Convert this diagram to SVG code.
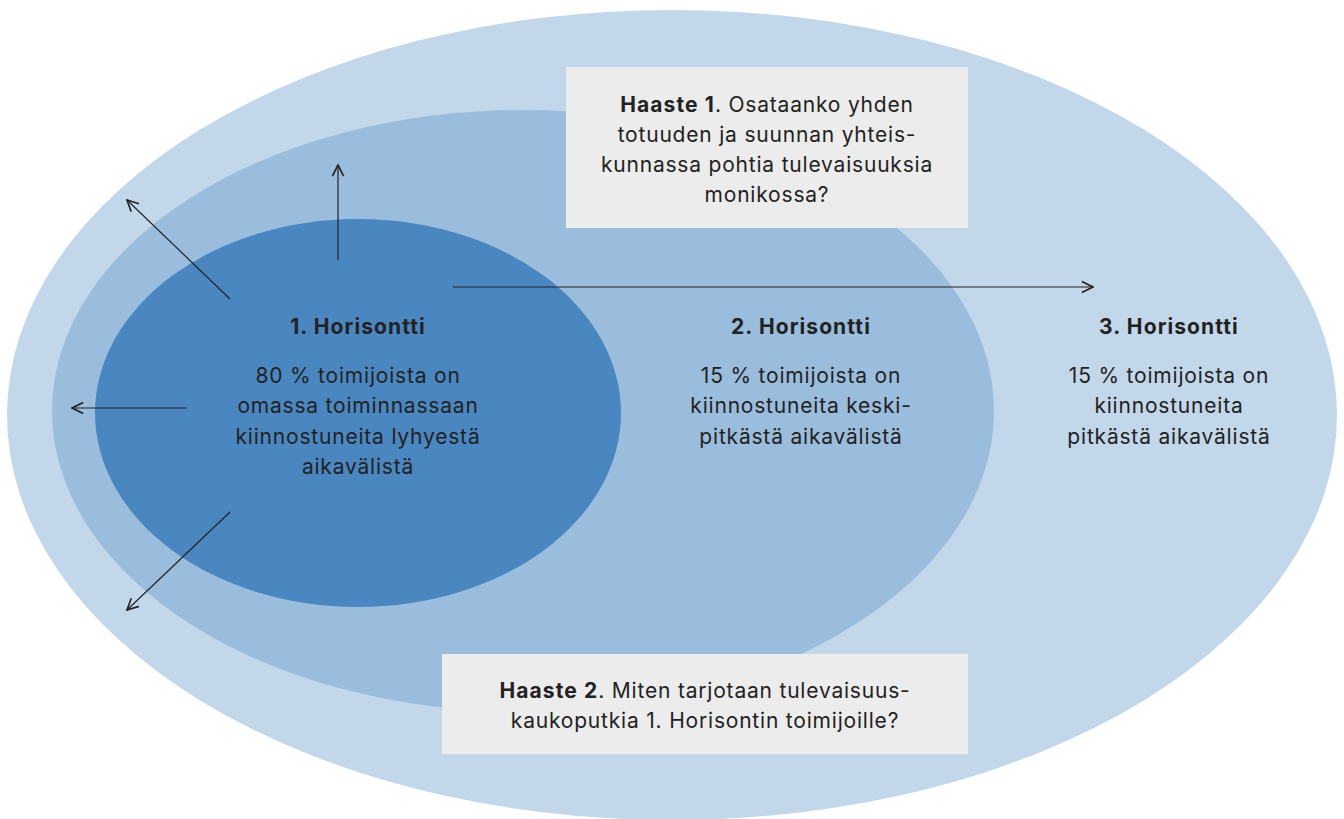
<svg xmlns="http://www.w3.org/2000/svg" width="1344" height="819" viewBox="0 0 1344 819">
<defs>
<style>
text{font-family:Inter,"Noto Sans","Liberation Sans",sans-serif;font-size:21px;letter-spacing:0.8px;fill:#222;text-anchor:middle}
.b{font-weight:700;letter-spacing:1.1px}
.ln{stroke:#222;stroke-width:1.2;fill:none;marker-end:url(#ah)}
.box{fill:#ececec}
</style>
<marker id="ah" viewBox="0 0 10 10" refX="9" refY="5" markerWidth="14" markerHeight="14" markerUnits="userSpaceOnUse" orient="auto">
<path d="M1,1 L9,5 L1,9" fill="none" stroke="#222" stroke-width="1.2"/>
</marker>
</defs>
<rect width="1344" height="819" fill="#fff"/>
<g id="horizon3"><ellipse cx="672" cy="415" rx="665" ry="405" fill="#c2d7ea"/>
<text x="1169" y="334" class="b">3. Horisontti</text>
<text x="1169" y="383">15 % toimijoista on</text>
<text x="1169" y="413">kiinnostuneita</text>
<text x="1169" y="444">pitkästä aikavälistä</text></g>
<g id="horizon2"><ellipse cx="523" cy="411" rx="471" ry="301" fill="#9abcdd"/>
<text x="801" y="334" class="b">2. Horisontti</text>
<text x="801" y="383">15 % toimijoista on</text>
<text x="801" y="413">kiinnostuneita keski-</text>
<text x="801" y="444">pitkästä aikavälistä</text></g>
<g id="horizon1"><ellipse cx="358" cy="413" rx="263" ry="194" fill="#4a86c0"/>
<text x="358" y="334" class="b">1. Horisontti</text>
<text x="358" y="383">80 % toimijoista on</text>
<text x="358" y="413">omassa toiminnassaan</text>
<text x="358" y="444">kiinnostuneita lyhyestä</text>
<text x="358" y="474">aikavälistä</text></g>
<g id="connectors">
<line class="ln" x1="338" y1="260" x2="338" y2="165"/>
<line class="ln" x1="230" y1="299" x2="127" y2="200"/>
<line class="ln" x1="187" y1="408" x2="72" y2="408"/>
<line class="ln" x1="230" y1="512" x2="127" y2="610"/>
<line class="ln" x1="453" y1="287" x2="1093" y2="287"/>
</g>
<g id="challenge1"><rect class="box" x="566" y="67" width="402" height="161"/>
<text x="767" y="112"><tspan class="b">Haaste 1</tspan>. Osataanko yhden</text>
<text x="767" y="142">totuuden ja suunnan yhteis-</text>
<text x="767" y="172">kunnassa pohtia tulevaisuuksia</text>
<text x="767" y="202">monikossa?</text></g>
<g id="challenge2"><rect class="box" x="442" y="654" width="526" height="100"/>
<text x="705" y="698"><tspan class="b">Haaste 2</tspan>. Miten tarjotaan tulevaisuus-</text>
<text x="705" y="728">kaukoputkia 1. Horisontin toimijoille?</text></g>
</svg>
